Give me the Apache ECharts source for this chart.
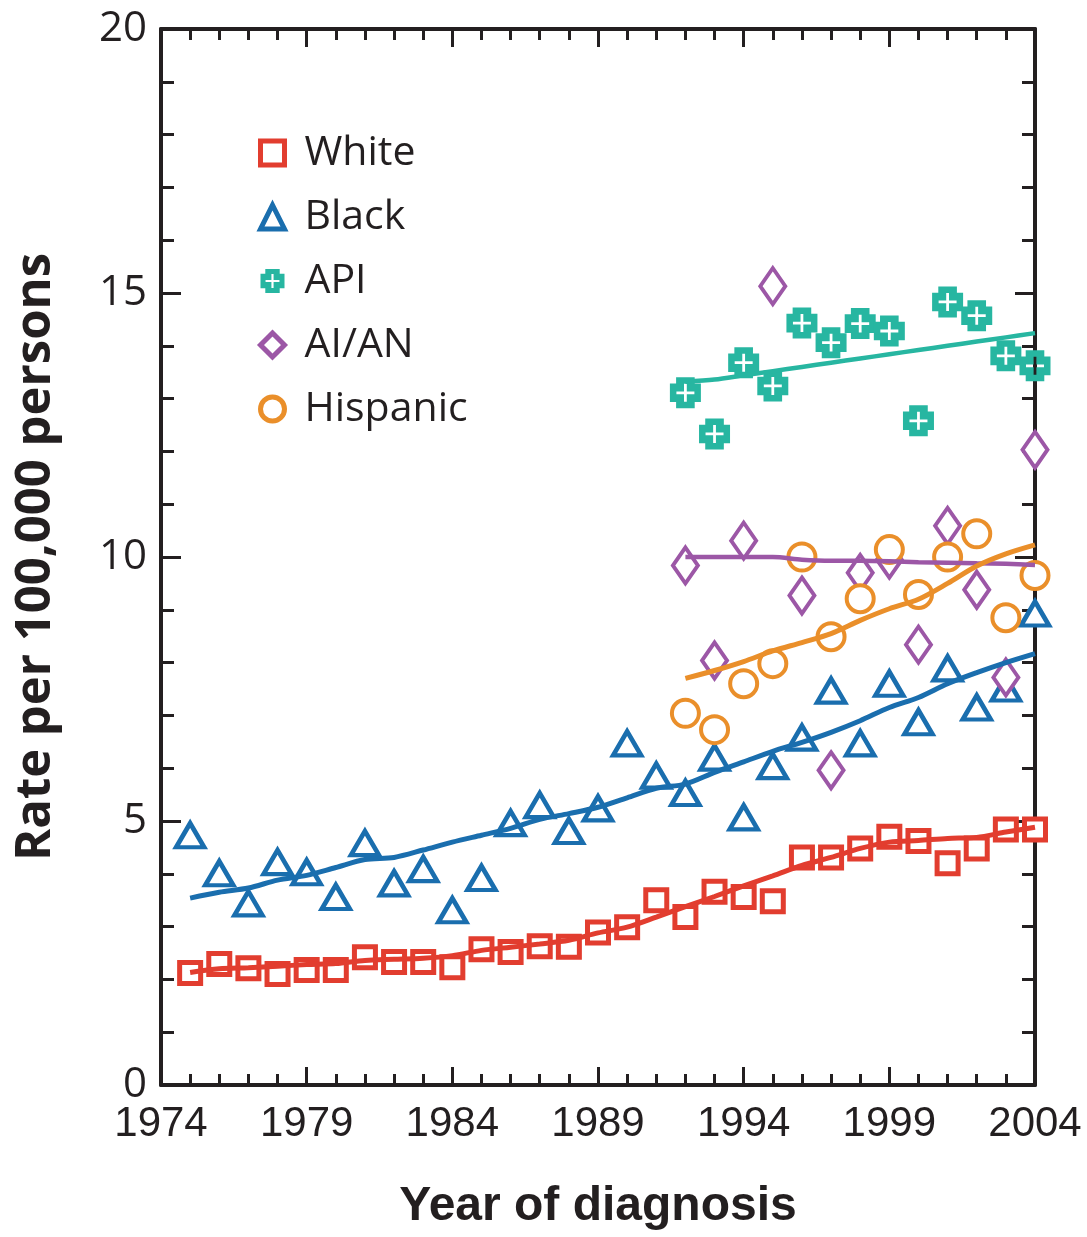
<!DOCTYPE html>
<html>
<head>
<meta charset="utf-8">
<script src="https://cdn.jsdelivr.net/npm/echarts@6/dist/echarts.min.js"></script>
<style>
  html, body { margin: 0; padding: 0; background: #fff; }
  #chart { width: 1087px; height: 1237px; }
</style>
</head>
<body>
<div id="chart"></div>
<script>
// years
var yearsAll = [1975,1976,1977,1978,1979,1980,1981,1982,1983,1984,1985,1986,1987,1988,1989,
                1990,1991,1992,1993,1994,1995,1996,1997,1998,1999,2000,2001,2002,2003,2004];
var years92 = [1992,1993,1994,1995,1996,1997,1998,1999,2000,2001,2002,2003,2004];

// observed rates
var white = [2.12,2.29,2.21,2.10,2.18,2.18,2.42,2.33,2.33,2.23,2.57,2.52,2.63,2.62,2.89,
             2.99,3.50,3.18,3.66,3.56,3.48,4.31,4.31,4.48,4.70,4.62,4.20,4.48,4.84,4.84];
var black = [4.73,4.01,3.44,4.22,4.03,3.56,4.58,3.82,4.09,3.31,3.92,4.96,5.30,4.81,5.24,
             6.47,5.86,5.53,6.20,5.07,6.04,6.58,7.47,6.47,7.60,6.87,7.89,7.15,7.51,8.93];
var api   = [13.11,12.33,13.68,13.24,14.43,14.06,14.42,14.28,12.58,14.83,14.57,13.81,13.62];
var aian  = [9.84,8.04,10.31,15.13,9.27,5.96,9.70,9.95,8.34,10.59,9.38,7.72,12.03];
var hisp  = [7.04,6.73,7.60,7.98,10.00,8.49,9.21,10.14,9.29,10.00,10.44,8.85,9.65];

// fitted trend lines
var whiteTrend = [2.13,2.20,2.22,2.25,2.28,2.30,2.36,2.38,2.40,2.45,2.55,2.61,2.67,2.74,2.88,
                  2.99,3.18,3.38,3.57,3.77,3.96,4.16,4.31,4.48,4.60,4.63,4.67,4.69,4.79,4.88];
var blackTrend = [3.54,3.65,3.73,3.88,3.97,4.12,4.27,4.31,4.45,4.60,4.73,4.86,5.03,5.14,5.26,
                  5.44,5.62,5.70,5.92,6.12,6.32,6.49,6.68,6.90,7.15,7.34,7.60,7.81,8.00,8.17];
var apiTrend  = [13.32,13.36,13.44,13.52,13.60,13.68,13.76,13.84,13.92,14.00,14.08,14.16,14.24];
var aianTrend = [10.00,10.00,10.00,10.00,9.95,9.93,9.93,9.92,9.90,9.89,9.88,9.87,9.85];
var hispTrend = [7.70,7.85,8.02,8.22,8.38,8.55,8.80,9.02,9.20,9.50,9.83,10.06,10.23];

var names = ['White','Black','API','AI/AN','Hispanic'];
var colors = ['#e23d2f','#1a6eae','#27b6a1','#9c57a6','#ea8f2a'];

function pairs(xs, ys) {
  return xs.map(function (x, i) { return [x, ys[i]]; });
}

var ink = '#231f20';
// plus with thin white cross cut out
var plusPath = 'path://M2,0H8V2H10V8H8V10H2V8H0V2H2Z' +
               'M4.55,2.1V4.55H2.1V5.45H4.55V7.9H5.45V5.45H7.9V4.55H5.45V2.1Z';

var chart = echarts.init(document.getElementById('chart'));

function xAx(pos, showLabel) {
  return {
    type: 'value', position: pos, min: 1974, max: 2004, interval: 5,
    axisLine: { show: true, onZero: false, lineStyle: { color: ink, width: 4 } },
    axisTick: { show: true, inside: true, length: 18, lineStyle: { color: ink, width: 3 } },
    minorTick: { show: true, splitNumber: 5, length: 11, lineStyle: { color: ink, width: 3 } },
    splitLine: { show: false },
    axisLabel: {
      show: showLabel, margin: 18, color: ink, fontSize: 42,
      fontFamily: '"Liberation Sans", sans-serif',
      formatter: function (v) { return String(v); }
    },
    name: showLabel ? 'Year of diagnosis' : '',
    nameLocation: 'middle', nameGap: 98,
    nameTextStyle: {
      color: ink, fontSize: 48, fontWeight: 'bold',
      fontFamily: '"Liberation Sans", sans-serif'
    }
  };
}
function yAx(pos, showLabel) {
  return {
    type: 'value', position: pos, min: 0, max: 20, interval: 5,
    axisLine: { show: true, onZero: false, lineStyle: { color: ink, width: 4 } },
    axisTick: { show: true, inside: true, length: 20, lineStyle: { color: ink, width: 3 } },
    minorTick: { show: true, splitNumber: 5, length: 13, lineStyle: { color: ink, width: 3 } },
    splitLine: { show: false },
    axisLabel: { show: showLabel, margin: 14, color: ink, fontSize: 42, fontFamily: '"Open Sans", sans-serif' },
    name: showLabel ? 'Rate per 100,000 persons' : '',
    nameLocation: 'middle', nameGap: 100, nameRotate: 90,
    nameTextStyle: { color: ink, fontSize: 49, fontWeight: 'bold', fontFamily: '"Open Sans", sans-serif' }
  };
}

function scatter(i, xs, ys, symbol, size, bw) {
  return {
    name: names[i], type: 'scatter', z: 2,
    data: pairs(xs, ys), symbol: symbol, symbolSize: size,
    itemStyle: bw ? { color: '#fff', borderColor: colors[i], borderWidth: bw, opacity: 1 }
                  : { color: colors[i], opacity: 1 }
  };
}
function trend(i, xs, ys, w) {
  return {
    type: 'line', z: 3, data: pairs(xs, ys), showSymbol: false, symbol: 'none',
    smooth: 0.3, lineStyle: { color: colors[i], width: w }, silent: true
  };
}

var option = {
  animation: false,
  grid: { left: 161, right: 52, top: 29, bottom: 152, outerBoundsMode: 'none', containLabel: false },
  xAxis: [xAx('bottom', true), xAx('top', false)],
  yAxis: [yAx('left', true), yAx('right', false)],
  legend: {
    orient: 'vertical', left: 253, top: 126, itemGap: 20,
    itemWidth: 24, itemHeight: 24,
    itemStyle: { borderWidth: 5 },
    textStyle: { color: ink, fontSize: 41, lineHeight: 44, padding: [0, 0, 0, 15],
                 fontFamily: '"Open Sans", sans-serif' },
    data: [
      { name: 'White' }, { name: 'Black' },
      { name: 'API', itemStyle: { borderWidth: 0 } },
      { name: 'AI/AN' }, { name: 'Hispanic' }
    ]
  },
  series: [
    scatter(0, yearsAll, white, 'rect', 21, 5),
    scatter(1, yearsAll, black, 'triangle', [28, 24], 4.5),
    scatter(2, years92, api, plusPath, 31, 0),
    scatter(3, years92, aian, 'diamond', [25, 36], 4),
    scatter(4, years92, hisp, 'circle', 27, 4),
    trend(0, yearsAll, whiteTrend, 5),
    trend(1, yearsAll, blackTrend, 5),
    trend(2, years92, apiTrend, 4.5),
    trend(3, years92, aianTrend, 4.5),
    trend(4, years92, hispTrend, 5)
  ]
};
chart.setOption(option);
</script>
</body>
</html>
